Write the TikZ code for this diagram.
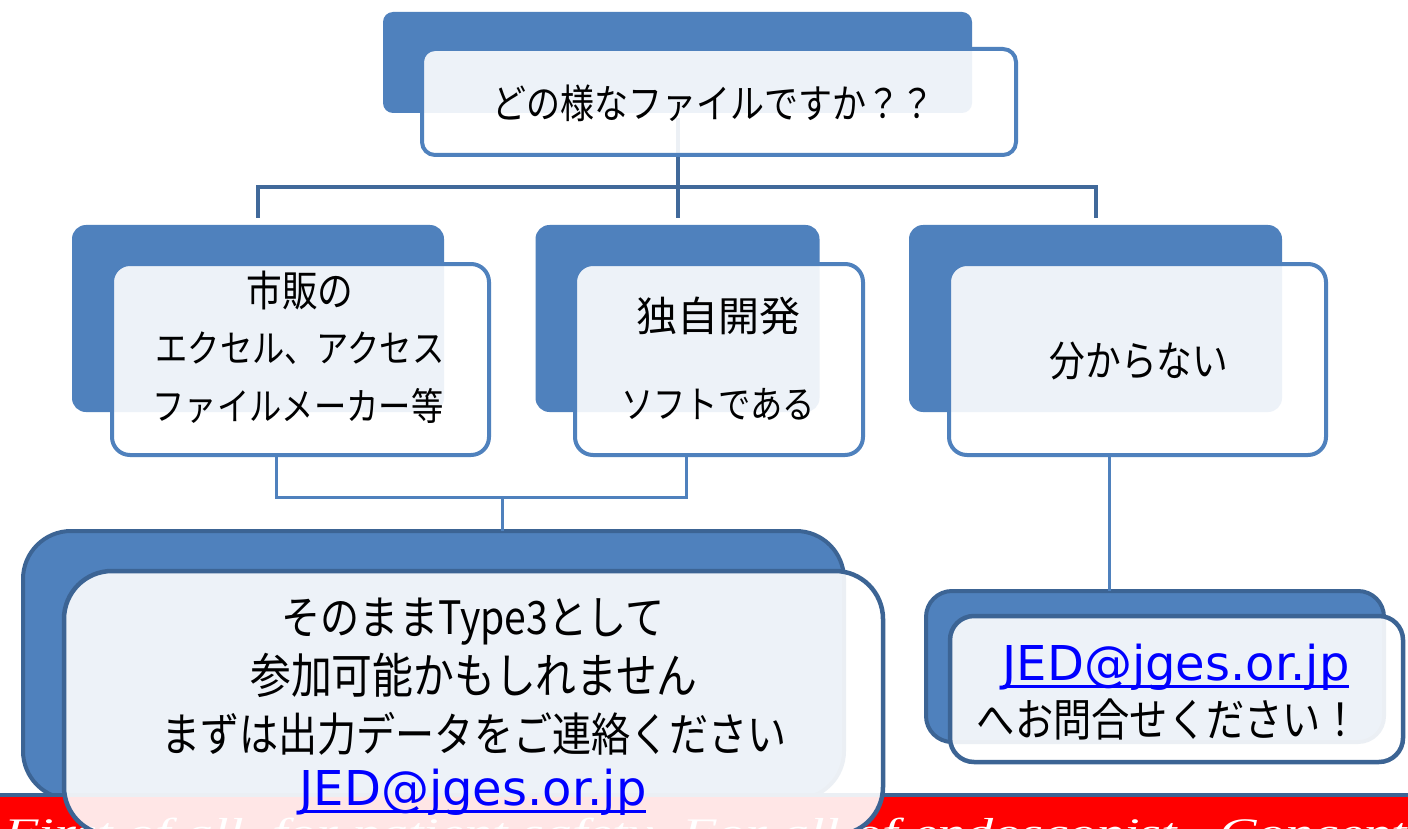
\documentclass[tikz,border=0pt]{standalone}
\usepackage{fontspec}
\newfontfamily\jpfont{Noto Sans CJK JP}[FakeStretch=0.85]
\newfontfamily\jpwide{Noto Sans CJK JP}
\newfontfamily\mailfont{DejaVu Sans}
\newfontfamily\footfont{Liberation Serif}
\definecolor{backblue}{HTML}{4F81BD}
\definecolor{darkblue}{HTML}{3C6494}
\definecolor{topline}{HTML}{41699A}
\definecolor{mailblue}{HTML}{0000FF}
\newcommand\myfs[1]{\fontsize{#1}{#1}\selectfont}
\newcommand\mailul[1]{\setbox0\hbox{#1}\rlap{\rule[-7.5pt]{\wd0}{3pt}}\box0}
\begin{document}
\begin{tikzpicture}[x=1pt,y=-1pt,
  box/.style={rectangle, inner sep=0pt, outer sep=0pt},
  backbox/.style={box, fill=backblue},
  frontbox/.style={box, draw=backblue, line width=4pt, fill=white, fill opacity=0.9},
  darkback/.style={box, fill=backblue, draw=darkblue, line width=4pt},
  darkfront/.style={box, fill=white, fill opacity=0.9, draw=darkblue, line width=4.5pt},
  topconn/.style={draw=topline, line width=4pt},
  lowconn/.style={draw=backblue, line width=3pt},
  jtext/.style={anchor=base, inner sep=0pt, text=black},
  mailtext/.style={anchor=base, inner sep=0pt, font=\mailfont\myfs{48}, text=mailblue}]
\clip (0,0) rectangle (1408,829);
\useasboundingbox (0,0) rectangle (1408,829);
\fill[white] (0,0) rectangle (1408,829);
% back boxes
\node[backbox, rounded corners=10pt, minimum width=589pt, minimum height=101pt] (tb) at (677.5,62.5) {};
\node[backbox, rounded corners=14pt, minimum width=372pt, minimum height=187pt] (m1b) at (258,318.5) {};
\node[backbox, rounded corners=14pt, minimum width=284pt, minimum height=187pt] (m2b) at (677.5,318.5) {};
\node[backbox, rounded corners=14pt, minimum width=373pt, minimum height=187pt] (m3b) at (1095.5,318.5) {};
\node[darkback, rounded corners=48pt, minimum width=821pt, minimum height=268pt] (blb) at (433.5,665) {};
\node[darkback, rounded corners=26pt, minimum width=458pt, minimum height=151pt] (brb) at (1155,666.5) {};
% top connectors
\coordinate (hbar) at (677.5,187);
\draw[topconn] ([yshift=-5pt]tb.south) -- ([yshift=7pt]m2b.north);
\draw[topconn] ([yshift=7pt]m1b.north) |- (hbar) -| ([yshift=7pt]m3b.north);
% footer bar
\fill[red] (0,795) rectangle (1408,840);
\draw[darkblue, line width=4pt] (0,795) -- (1408,795);
\node[anchor=base west, inner sep=0pt, text=white, font=\footfont\itshape\myfs{39}] (foot) at (4,845) {\scalebox{1.44}[1]{First of all, for patient safety. For all of endoscopist , Concept}};
% front boxes
\node[frontbox, rounded corners=13pt, minimum width=594pt, minimum height=106pt] (tf) at (719,102) {};
\node[frontbox, rounded corners=18pt, minimum width=377pt, minimum height=191pt] (m1f) at (300.5,359.5) {};
\node[frontbox, rounded corners=18pt, minimum width=288pt, minimum height=191pt] (m2f) at (719,359.5) {};
\node[frontbox, rounded corners=18pt, minimum width=377pt, minimum height=191pt] (m3f) at (1137.5,359.5) {};
\node[darkfront, rounded corners=48pt, minimum width=819pt, minimum height=264pt] (blf) at (473.5,703) {};
\node[darkfront, rounded corners=24pt, minimum width=453pt, minimum height=146pt] (brf) at (1176.5,689) {};
% lower connectors
\coordinate (j1) at (502,497);
\coordinate (c1) at ([xshift=-24.5pt]m1f.south);
\coordinate (c2) at ([xshift=-33pt]m2f.south);
\coordinate (c3) at ([xshift=-28.5pt]m3f.south);
\draw[lowconn] (c1) |- (j1);
\draw[lowconn] (c2) |- (j1);
\draw[lowconn] (j1) -- (j1 |- blb.north);
\draw[lowconn] (c3) -- (c3 |- brb.north);
% texts
\node[jtext, font=\jpfont\myfs{40}] (t0) at (713,119) {どの様なファイルですか？？};
\node[jtext, font=\jpfont\myfs{42}] (t1a) at (300,306) {市販の};
\node[jtext, font=\jpfont\myfs{38}] (t1b) at (300,362) {エクセル、アクセス};
\node[jtext, font=\jpfont\myfs{38}] (t1c) at (298,420) {ファイルメーカー等};
\node[jtext, font=\jpwide\myfs{41}] (t2a) at (718,331) {独自開発};
\node[jtext, font=\jpfont\myfs{38}] (t2b) at (718,418) {ソフトである};
\node[jtext, font=\jpfont\myfs{42}] (t3) at (1139,376) {分からない};
\node[jtext, font=\jpfont\myfs{46}] (t4a) at (473,634) {そのままType3として};
\node[jtext, font=\jpfont\myfs{48}] (t4b) at (474,693) {参加可能かもしれません};
\node[jtext, font=\jpfont\myfs{46}] (t4c) at (474,751) {まずは出力データをご連絡ください};
\node[mailtext] (m4) at (473,805) {\mailul{JED@jges.or.jp}};
\node[mailtext] (m5) at (1176,680) {\mailul{JED@jges.or.jp}};
\node[jtext, font=\jpfont\myfs{45}] (t5) at (1168,736) {へお問合せください！};
\end{tikzpicture}
\end{document}
